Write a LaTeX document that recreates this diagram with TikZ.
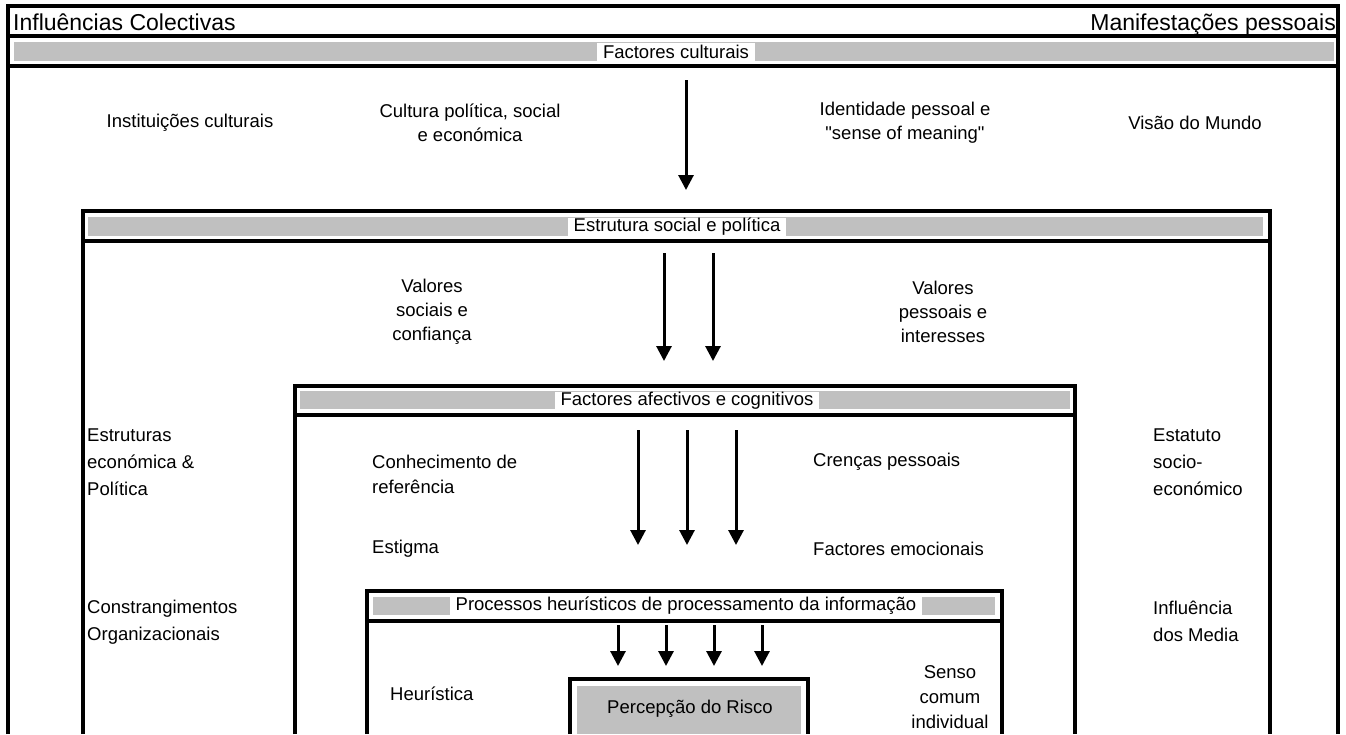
\documentclass[tikz,border=0pt]{standalone}
\usepackage{fontspec}
\setmainfont{Liberation Sans}[Ligatures=TeXOff]
\usetikzlibrary{arrows.meta}
\definecolor{bargray}{HTML}{C0C0C0}
\tikzset{
  frame/.style={line width=3.2pt, line cap=butt, line join=miter},
  bar/.style={fill=bargray, draw=none},
  barlabel/.style={fill=white, inner xsep=6pt, inner ysep=0pt, minimum height=19pt, font=\fontsize{18.5}{22}\selectfont},
  ctxt/.style={inner sep=0pt, align=center, font=\fontsize{18.5}{24}\selectfont},
  ltxt/.style={inner sep=0pt, anchor=west, align=left, font=\fontsize{18.5}{27}\selectfont},
  ttl/.style={inner sep=0pt, font=\fontsize{23}{27}\selectfont},
  arr/.style={line width=3pt, -{Triangle[width=15pt,length=15pt]}}
}
\begin{document}
\begin{tikzpicture}[x=1pt,y=-1pt]
\useasboundingbox (0,0) rectangle (1346,734);
\fill[white] (0,0) rectangle (1346,734);
% outer frame
\draw[frame] (8,734) |- (1338,6) -- (1338,734);
\draw[frame] (8,36) -- (1338,36);
\draw[frame] (8,66) -- (1338,66);
\fill[bar] (14,42) rectangle (1334,61);
\node[ttl, anchor=base west] (tl) at (13,30) {Influências Colectivas};
\node[ttl, anchor=base east] (tr) at (1336,30) {Manifestações pessoais};
\node[barlabel] (fc) at (676,52) {Factores culturais};
% level 1 texts
\node[ctxt] (ic) at (190,123) {Instituições culturais};
\node[ctxt] (cp) at (470,123) {Cultura política, social\\e económica};
\node[ctxt] (ip) at (905,123) {Identidade pessoal e\\"sense of meaning"};
\node[ctxt] (vm) at (1195,123) {Visão do Mundo};
\coordinate (a1s) at (686,80);
\coordinate (a1e) at (686,190);
\draw[arr] (a1s) -- (a1e);
% box 2
\draw[frame] (83,734) |- (1270,211) -- (1270,734);
\draw[frame] (83,241) -- (1271,241);
\fill[bar] (88,217) rectangle (1263,236);
\node[barlabel] (es) at (677,227) {Estrutura social e política};
\node[ctxt] (vs) at (432,312) {Valores\\sociais e\\confiança};
\node[ctxt] (vp) at (943,312) {Valores\\pessoais e\\interesses};
\node[ltxt] (ee) at (87,462) {Estruturas\\económica \&\\Política};
\node[ltxt] (et) at (1153,462) {Estatuto\\socio-\\económico};
\node[ltxt] (co) at (87,622) {Constrangimentos\\Organizacionais};
\node[ltxt] (im) at (1153,621) {Influência\\dos Media};
\coordinate (a2s) at (664,253);
\coordinate (a2e) at (664,361);
\coordinate (a3s) at (713,253);
\coordinate (a3e) at (713,361);
\draw[arr] (a2s) -- (a2e);
\draw[arr] (a3s) -- (a3e);
% box 3
\draw[frame] (295,734) |- (1075,386) -- (1075,734);
\draw[frame] (295,415) -- (1076,415);
\fill[bar] (300,391) rectangle (1070,409);
\node[barlabel] (fa) at (687,401) {Factores afectivos e cognitivos};
\node[ltxt, font=\fontsize{18.5}{25}\selectfont] (ck) at (372,474) {Conhecimento de\\referência};
\node[ltxt] (cr) at (813,462) {Crenças pessoais};
\node[ltxt] (eg) at (372,549) {Estigma};
\node[ltxt] (fe) at (813,549) {Factores emocionais};
\coordinate (a4s) at (638,430);
\coordinate (a4e) at (638,545);
\coordinate (a5s) at (687,430);
\coordinate (a5e) at (687,545);
\coordinate (a6s) at (736,430);
\coordinate (a6e) at (736,545);
\draw[arr] (a4s) -- (a4e);
\draw[arr] (a5s) -- (a5e);
\draw[arr] (a6s) -- (a6e);
% box 4
\draw[frame] (367,734) |- (1002,591) -- (1002,734);
\draw[frame] (367,621) -- (1003,621);
\fill[bar] (373,597) rectangle (995,615);
\node[barlabel] (ph) at (686,606) {Processos heurísticos de processamento da informação};
\node[ltxt] (he) at (390,694) {Heurística};
\node[ctxt, font=\fontsize{18.5}{25}\selectfont] (sc) at (950,697) {Senso\\comum\\individual};
\coordinate (a7s) at (618,625);
\coordinate (a7e) at (618,666);
\coordinate (a8s) at (666,625);
\coordinate (a8e) at (666,666);
\coordinate (a9s) at (714,625);
\coordinate (a9e) at (714,666);
\coordinate (a10s) at (762,625);
\coordinate (a10e) at (762,666);
\draw[arr] (a7s) -- (a7e);
\draw[arr] (a8s) -- (a8e);
\draw[arr] (a9s) -- (a9e);
\draw[arr] (a10s) -- (a10e);
% box 5
\draw[frame] (570,734) |- (808,679) -- (808,734);
\fill[bar] (577,686) rectangle (801,734);
\node[ctxt] (pr) at (690,709) {Percepção do Risco};
\end{tikzpicture}
\end{document}
